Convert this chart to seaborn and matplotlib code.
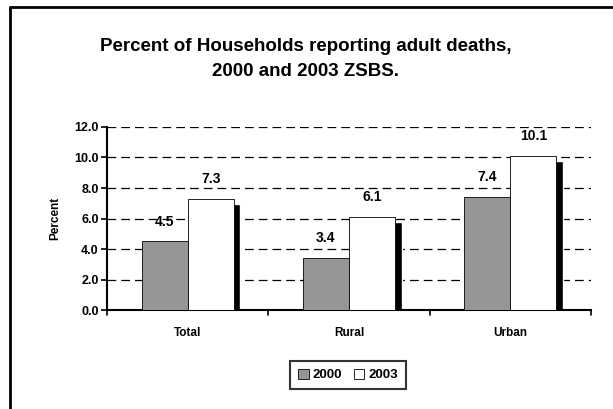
import pandas as pd
import matplotlib
matplotlib.use("Agg")
import matplotlib.pyplot as plt
import seaborn as sns
from matplotlib.lines import Line2D

# data
areas = ["Total", "Rural", "Urban"]
years = ["2000", "2003"]
pct_2000 = [4.5, 3.4, 7.4]
pct_2003 = [7.3, 6.1, 10.1]
y_ticks = [0, 2, 4, 6, 8, 10, 12]

df = pd.DataFrame({
    "Area": areas * 2,
    "Year": [years[0]] * 3 + [years[1]] * 3,
    "Percent": pct_2000 + pct_2003,
})

sns.set_style("white")
plt.rcParams["font.family"] = ["Liberation Sans", "DejaVu Sans"]
plt.rcParams["font.weight"] = "bold"
plt.rcParams["text.color"] = "black"
plt.rcParams["axes.labelcolor"] = "black"
plt.rcParams["xtick.color"] = "black"
plt.rcParams["ytick.color"] = "black"

fig = plt.figure(figsize=(6.13, 4.09), dpi=100)
ax = fig.add_axes([0.1746, 0.242, 0.7894, 0.4475])

sns.barplot(data=df, x="Area", y="Percent", hue="Year", order=areas,
            hue_order=years, palette=["#969696", "#ffffff"], width=0.572,
            edgecolor="black", linewidth=0.6, legend=False, ax=ax, zorder=3)

# black drop shadow behind the 2003 bars
bw = 0.286
for i, v in enumerate(pct_2003):
    ax.bar(i + bw / 2 + 0.04, v - 0.33, width=bw, color="black", zorder=2)

# value labels
for i, v in enumerate(pct_2000):
    ax.text(i - bw / 2, v + 1.3, f"{v:.1f}", ha="center", va="center",
            fontsize=10, fontweight="bold")
for i, v in enumerate(pct_2003):
    ax.text(i + bw / 2, v + 1.3, f"{v:.1f}", ha="center", va="center",
            fontsize=10, fontweight="bold")

ax.set_xlim(-0.5, 2.5)
ax.set_ylim(0, 12)
ax.set_yticks(y_ticks)
ax.set_yticklabels([f"{t:.1f}" for t in y_ticks], fontsize=9, fontweight="bold")
ax.set_xticks([0, 1, 2])
ax.set_xticklabels(areas, fontsize=8.5, fontweight="bold")
ax.tick_params(axis="x", length=0, pad=12)
ax.tick_params(axis="y", length=4, width=1.2, direction="out", left=True, pad=2)

# category boundary ticks
for xb in [-0.5, 0.5, 1.5, 2.5]:
    ax.plot([xb, xb], [0, -0.35], color="black", lw=1.2, clip_on=False, zorder=5)

for y in y_ticks[1:]:
    ax.axhline(y, color="black", lw=0.9, ls=(0, (7, 4)), zorder=1)

ax.set_xlabel("")
ax.set_ylabel("Percent", fontsize=8.5, fontweight="bold", labelpad=9)

for s in ["top", "right"]:
    ax.spines[s].set_visible(False)
for s in ["left", "bottom"]:
    ax.spines[s].set_color("black")
    ax.spines[s].set_linewidth(1.5)

fig.text(306 / 613, 1 - 59 / 409, "Percent of Households reporting adult deaths,\n2000 and 2003 ZSBS.",
         ha="center", va="center", fontsize=13.5, fontweight="bold", linespacing=1.55)

handles = [plt.Rectangle((0, 0), 1, 1, facecolor="#969696", edgecolor="black", lw=0.6),
           plt.Rectangle((0, 0), 1, 1, facecolor="white", edgecolor="black", lw=0.6)]
leg = fig.legend(handles, years, loc="center", bbox_to_anchor=(348 / 613, 1 - 375 / 409),
                 ncol=2, frameon=True, fancybox=False,
                 handlelength=0.8, handleheight=0.8, handletextpad=0.3,
                 columnspacing=0.9, borderpad=0.6, prop={"weight": "bold", "size": 9.5})
leg.get_frame().set_edgecolor("black")
leg.get_frame().set_linewidth(1.5)

# outer frame (left and top only)
fig.add_artist(Line2D([10 / 613, 10 / 613], [0, 1 - 7 / 409], color="black", lw=2))
fig.add_artist(Line2D([10 / 613, 1], [1 - 7 / 409, 1 - 7 / 409], color="black", lw=2))

fig.savefig("out.png", dpi=100)
